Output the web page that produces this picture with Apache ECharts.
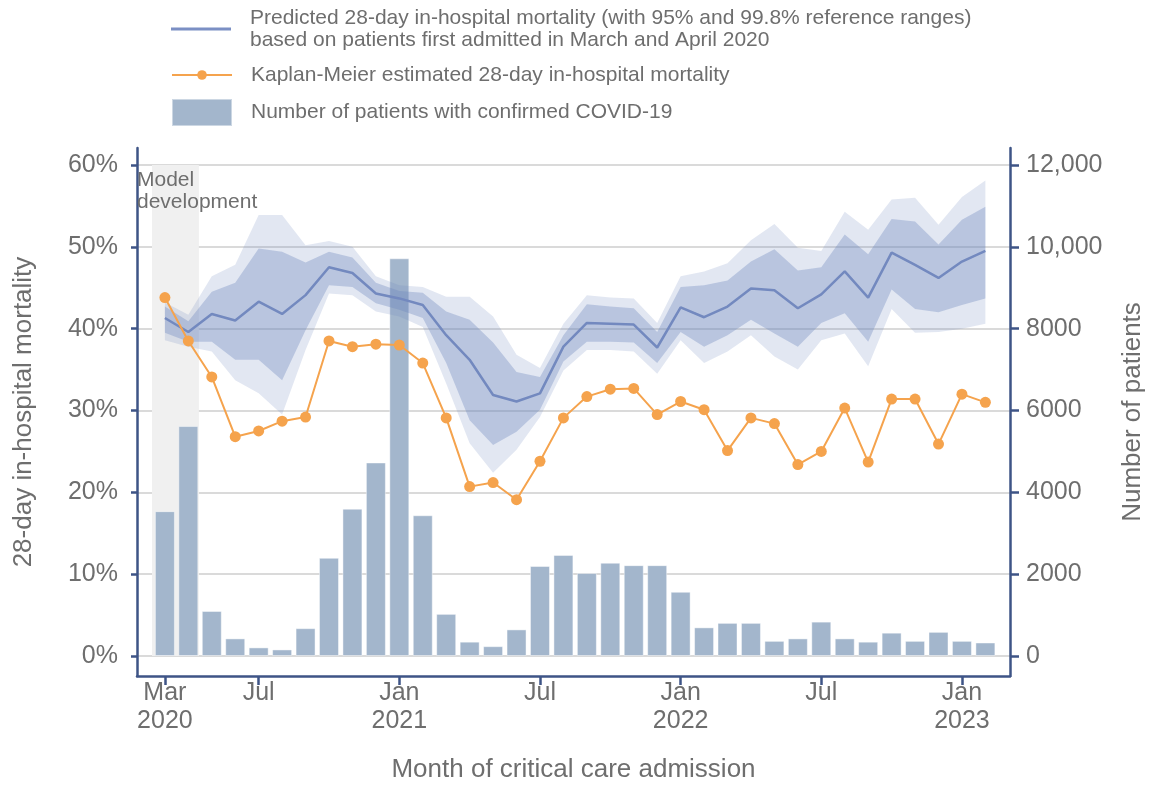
<!DOCTYPE html>
<html>
<head>
<meta charset="utf-8">
<script src="https://cdn.jsdelivr.net/npm/echarts@6/dist/echarts.min.js"></script>
<style>
  html, body { margin: 0; padding: 0; background: #fff; }
  #chart { width: 1154px; height: 785px; }
</style>
</head>
<body>
<div id="chart"></div>
<script>
// month index 0 = Mar 2020 ... 35 = Feb 2023
const months = [
  '2020-03', '2020-04', '2020-05', '2020-06', '2020-07', '2020-08', '2020-09', '2020-10', '2020-11', '2020-12',
  '2021-01', '2021-02', '2021-03', '2021-04', '2021-05', '2021-06', '2021-07', '2021-08', '2021-09', '2021-10', '2021-11', '2021-12',
  '2022-01', '2022-02', '2022-03', '2022-04', '2022-05', '2022-06', '2022-07', '2022-08', '2022-09', '2022-10', '2022-11', '2022-12',
  '2023-01', '2023-02'
];

const patients = [
  3540, 5620, 1100, 430, 210, 160, 680, 2400, 3600, 4730,
  9720, 3440, 1030, 350, 240, 650, 2200, 2470, 2030, 2280, 2220, 2220,
  1570, 700, 810, 810, 370, 430, 840, 430, 350, 570, 370, 590,
  370, 330
];

const kmMortality = [
  43.8, 38.5, 34.1, 26.8, 27.5, 28.7, 29.2, 38.5, 37.8, 38.1,
  38.0, 35.8, 29.1, 20.7, 21.2, 19.1, 23.8, 29.1, 31.7, 32.6, 32.7, 29.5,
  31.1, 30.1, 25.1, 29.1, 28.4, 23.4, 25.0, 30.3, 23.7, 31.4, 31.4, 25.9,
  32.0, 31.0
];

const predicted = [
  41.3, 39.6, 41.8, 41.0, 43.3, 41.8, 44.1, 47.5, 46.8, 44.3,
  43.7, 42.9, 39.2, 36.2, 31.9, 31.1, 32.1, 37.8, 40.7, 40.6, 40.5, 37.7,
  42.6, 41.4, 42.7, 44.9, 44.7, 42.5, 44.2, 47.0, 43.8, 49.3, 47.8, 46.2,
  48.2, 49.5
];

const ci95Lower = [
  39.5, 38.4, 38.4, 36.2, 36.2, 33.7, 39.8, 45.3, 45.1, 43.1,
  42.3, 41.3, 35.8, 28.8, 25.8, 27.4, 30.1, 36.0, 38.4, 38.4, 38.3, 35.8,
  39.6, 37.8, 39.2, 41.1, 39.4, 37.8, 40.7, 41.9, 38.4, 44.8, 42.4, 42.0,
  42.9, 43.7
];
const ci95Upper = [
  42.7, 40.9, 44.5, 45.6, 49.8, 49.4, 48.1, 49.4, 48.7, 45.6,
  44.6, 44.4, 42.1, 41.1, 38.3, 34.7, 34.1, 39.2, 43.0, 42.7, 42.5, 39.6,
  45.1, 45.3, 45.9, 48.2, 49.7, 47.1, 47.5, 51.5, 49.1, 53.4, 53.1, 50.3,
  53.3, 54.9
];
const ci998Lower = [
  38.6, 37.8, 37.2, 33.7, 32.1, 29.5, 37.4, 44.3, 44.1, 42.1,
  41.5, 40.2, 33.3, 26.0, 22.4, 25.2, 29.2, 34.9, 37.4, 37.4, 37.2, 34.5,
  38.6, 35.8, 37.2, 39.2, 36.6, 35.0, 38.6, 39.4, 35.4, 42.4, 39.5, 39.6,
  40.0, 40.6
];
const ci998Upper = [
  43.2, 41.7, 46.4, 47.8, 53.9, 53.9, 50.2, 50.7, 50.0, 46.4,
  45.3, 45.1, 43.9, 43.9, 41.5, 36.8, 35.2, 40.6, 44.1, 43.8, 43.7, 40.7,
  46.4, 47.0, 48.0, 50.8, 52.8, 49.9, 49.5, 54.3, 52.1, 55.8, 56.0, 52.7,
  56.1, 58.1
];

// x tick positions (month index) and labels
const xTickValues = [0, 4, 10, 16, 22, 28, 34];
const xTickLabels = ['Mar\n2020', 'Jul', 'Jan\n2021', 'Jul', 'Jan\n2022', 'Jul', 'Jan\n2023'];

const leftTickValues = [0, 10, 20, 30, 40, 50, 60];
const leftTickLabels = ['0%', '10%', '20%', '30%', '40%', '50%', '60%'];

const rightTickValues = [0, 2000, 4000, 6000, 8000, 10000, 12000];
const rightTickLabels = ['0', '2000', '4000', '6000', '8000', '10,000', '12,000'];

// model development period (Mar-Apr 2020)
const devPeriod = [-0.55, 1.45];

const NAME_PRED = 'Predicted 28-day in-hospital mortality (with 95% and 99.8% reference ranges)\nbased on patients first admitted in March and April 2020';
const NAME_KM = 'Kaplan-Meier estimated 28-day in-hospital mortality';
const NAME_BAR = 'Number of patients with confirmed COVID-19';

const FONT = '"Liberation Sans", Arial, sans-serif';
const TEXT = '#6e6e6e';
const AXIS = '#3e5486';
const BAND = '110,135,190';

function pairs(arr) {
  return arr.map(function(v, i) { return [i, v]; });
}

// one polygon between lo and hi, drawn once for the whole series
function bandRenderer(lo, hi, fill) {
  return function(params, api) {
    if (params.dataIndex !== 0) return null;
    let pts = [];
    for (let i = 0; i < hi.length; i++) pts.push(api.coord([i, hi[i]]));
    for (let i = lo.length - 1; i >= 0; i--) pts.push(api.coord([i, lo[i]]));
    return {
      type: 'polygon',
      shape: { points: pts },
      style: { fill: fill }
    };
  };
}

let myChart = echarts.init(document.getElementById('chart'));

let legendText = {
  fontFamily: FONT,
  fontSize: 21,
  lineHeight: 22,
  color: TEXT,
  padding: [0, 0, 0, 14]
};

let option = {
  animation: false,
  textStyle: { fontFamily: FONT },
  legend: [
    {
      data: [{ name: NAME_PRED, icon: 'rect' }],
      left: 171, top: 7, padding: 0, itemWidth: 60, itemHeight: 3,
      itemStyle: { color: '#7b8fc4' },
      textStyle: legendText, selectedMode: false
    },
    {
      data: [NAME_KM], left: 171, top: 64, padding: 0, itemWidth: 60, itemHeight: 12,
      textStyle: legendText, selectedMode: false
    },
    {
      data: [{ name: NAME_BAR, icon: 'rect' }], left: 171, top: 98, padding: 0, itemWidth: 60, itemHeight: 27,
      textStyle: legendText, selectedMode: false
    }
  ],
  grid: { left: 137, right: 144, top: 148, bottom: 109, outerBoundsMode: 'none' },
  xAxis: {
    type: 'value',
    min: -1.19,
    max: 36.05,
    name: 'Month of critical care admission',
    nameLocation: 'middle',
    nameGap: 81,
    nameTextStyle: { fontSize: 26, color: TEXT, fontFamily: FONT },
    axisLine: { onZero: false, lineStyle: { color: AXIS, width: 2.5 } },
    axisTick: { customValues: xTickValues, length: 9, lineStyle: { color: AXIS, width: 2.5 } },
    axisLabel: {
      customValues: xTickValues,
      margin: 3,
      fontSize: 25,
      lineHeight: 28,
      color: TEXT,
      formatter: function(v) { return xTickLabels[xTickValues.indexOf(v)]; }
    },
    splitLine: { show: false }
  },
  yAxis: [
    {
      type: 'value',
      min: -2.444,
      max: 62.08,
      name: '28-day in-hospital mortality',
      nameLocation: 'middle',
      nameGap: 100,
      nameTextStyle: { fontSize: 26, color: TEXT, fontFamily: FONT },
      axisLine: { show: true, onZero: false, lineStyle: { color: AXIS, width: 2.5 } },
      axisTick: { show: true, customValues: leftTickValues, length: 6, lineStyle: { color: AXIS, width: 2.5 } },
      axisLabel: {
        customValues: leftTickValues,
        margin: 19,
        fontSize: 25,
        color: TEXT,
        formatter: function(v) { return leftTickLabels[leftTickValues.indexOf(v)]; }
      },
      splitLine: { show: true, lineStyle: { color: '#dadada', width: 2 } }
    },
    {
      type: 'value',
      min: -488.9,
      max: 12416,
      name: 'Number of patients',
      nameLocation: 'middle',
      nameGap: 110,
      nameTextStyle: { fontSize: 26, color: TEXT, fontFamily: FONT },
      axisLine: { show: true, onZero: false, lineStyle: { color: AXIS, width: 2.5 } },
      axisTick: { show: true, customValues: rightTickValues, length: 9, lineStyle: { color: AXIS, width: 2.5 } },
      axisLabel: {
        customValues: rightTickValues,
        margin: 16,
        fontSize: 25,
        color: TEXT,
        formatter: function(v) { return rightTickLabels[rightTickValues.indexOf(v)]; }
      },
      splitLine: { show: false }
    }
  ],
  series: [
    {
      // grey model development window
      type: 'line',
      name: 'dev',
      data: [],
      z: 1,
      silent: true,
      markArea: {
        silent: true,
        itemStyle: { color: '#f0f0f0' },
        label: {
          show: true,
          position: [-15, 4],
          align: 'left',
          color: TEXT,
          fontSize: 21,
          lineHeight: 22,
          fontFamily: FONT,
          formatter: 'Model\ndevelopment'
        },
        data: [[{ xAxis: devPeriod[0], yAxis: 60 }, { xAxis: devPeriod[1], yAxis: 0 }]]
      }
    },
    {
      type: 'bar',
      name: NAME_BAR,
      yAxisIndex: 1,
      barWidth: 20,
      z: 2,
      itemStyle: { color: '#a3b6cc', borderColor: 'rgba(255,255,255,0.45)', borderWidth: 1 },
      data: pairs(patients)
    },
    {
      type: 'custom', name: 'range998', z: 3, silent: true,
      renderItem: bandRenderer(ci998Lower, ci998Upper, 'rgba(' + BAND + ',0.2)'),
      encode: { x: 0, y: 1 },
      data: pairs(ci998Upper)
    },
    {
      type: 'custom', name: 'range95', z: 4, silent: true,
      renderItem: bandRenderer(ci95Lower, ci95Upper, 'rgba(' + BAND + ',0.35)'),
      encode: { x: 0, y: 1 },
      data: pairs(ci95Upper)
    },
    {
      type: 'line',
      name: NAME_PRED,
      symbol: 'none',
      z: 5,
      color: '#7389bf',
      lineStyle: { color: '#7389bf', width: 2.5 },
      data: pairs(predicted)
    },
    {
      type: 'line',
      name: NAME_KM,
      symbol: 'circle',
      symbolSize: 11,
      z: 6,
      color: '#f5a34d',
      lineStyle: { color: '#f5a34d', width: 2 },
      itemStyle: { color: '#f5a34d' },
      data: pairs(kmMortality)
    }
  ]
};

myChart.setOption(option);
</script>
</body>
</html>
